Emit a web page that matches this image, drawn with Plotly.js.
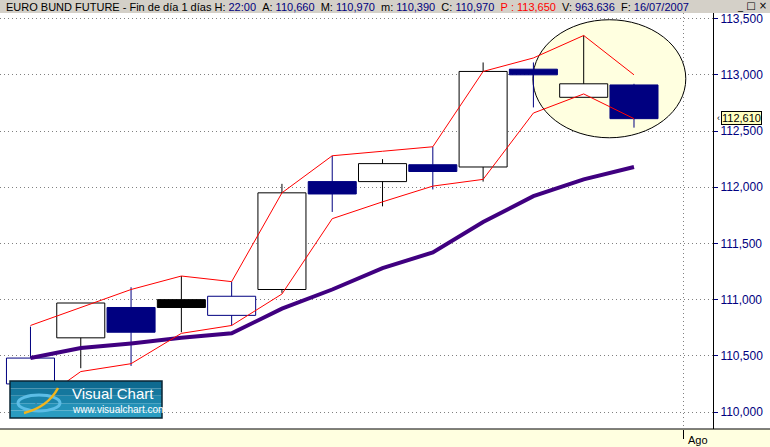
<!DOCTYPE html>
<html>
<head>
<meta charset="utf-8">
<script src="https://cdn.plot.ly/plotly-3.0.1.min.js"></script>
<style>html,body{margin:0;padding:0;background:#fff;}#chart{width:770px;height:447px;}</style>
</head>
<body>
<div id="chart"></div>
<script>
// ---- data ----
const sessions = [0, 1, 2, 3, 4, 5, 6, 7, 8, 9, 10, 11, 12];
const openP  = [110.25, 110.66, 110.93, 111.00, 110.86, 111.09, 112.05, 112.05, 112.20, 112.18, 113.05, 112.80, 112.91];
const highP  = [110.76, 110.97, 111.11, 111.21, 111.16, 112.03, 112.28, 112.25, 112.36, 113.11, 113.11, 113.35, 112.92];
const lowP   = [110.22, 110.39, 110.41, 110.71, 110.77, 111.06, 111.78, 111.83, 111.98, 112.05, 112.71, 112.80, 112.53];
const closeP = [110.48, 110.97, 110.71, 110.93, 111.03, 111.95, 111.94, 112.21, 112.14, 113.03, 113.00, 112.92, 112.61];
const upperBand = [110.77, 110.93, 111.09, 111.21, 111.16, 111.95, 112.28, 112.32, 112.36, 113.03, 113.15, 113.35, 113.00];
const lowerBand = [110.04, 110.36, 110.43, 110.70, 110.77, 111.05, 111.72, 111.87, 112.01, 112.07, 112.66, 112.83, 112.61];
const movingAvg = [110.48, 110.57, 110.61, 110.66, 110.70, 110.92, 111.09, 111.28, 111.42, 111.69, 111.92, 112.07, 112.18];
const yTickVals = [110.0, 110.5, 111.0, 111.5, 112.0, 112.5, 113.0, 113.5];
const yTickText = ['110,000', '110,500', '111,000', '111,500', '112,000', '112,500', '113,000', '113,500'];
const monthLabel = 'Ago';
const lastPriceText = '112,610';
const lastPrice = 112.61;

// ---- styles ----
const NAVY = '#000080', BLACK = '#000000';
const lineCol = sessions.map((s, i) => (i % 2 === 0 ? NAVY : BLACK));
const fillCol = sessions.map((s, i) => (closeP[i] >= openP[i] ? '#FFFFFF' : lineCol[i]));

// wick segments (outside the bodies)
function wicks(color) {
  const x = [], y = [];
  sessions.forEach((s, i) => {
    if (lineCol[i] !== color) return;
    const top = Math.max(openP[i], closeP[i]), bot = Math.min(openP[i], closeP[i]);
    if (highP[i] > top) { x.push(s, s, null); y.push(top, highP[i], null); }
    if (lowP[i] < bot) { x.push(s, s, null); y.push(lowP[i], bot, null); }
  });
  return {type: 'scatter', mode: 'lines', x: x, y: y, line: {color: color, width: 1}, hoverinfo: 'skip'};
}

const traces = [
  wicks(NAVY),
  wicks(BLACK),
  {
    type: 'bar', x: sessions,
    base: sessions.map((s, i) => Math.min(openP[i], closeP[i])),
    y: sessions.map((s, i) => Math.abs(closeP[i] - openP[i])),
    width: 0.955,
    marker: {color: fillCol, line: {color: lineCol, width: 1}},
    hoverinfo: 'skip'
  },
  {type: 'scatter', mode: 'lines', x: sessions, y: movingAvg, line: {color: '#400080', width: 4}},
  {type: 'scatter', mode: 'lines', x: sessions, y: upperBand, line: {color: '#FF0000', width: 1}},
  {type: 'scatter', mode: 'lines', x: sessions, y: lowerBand, line: {color: '#FF0000', width: 1}}
];

// pixel helpers for decorations (plot area: x 0..713, y 13..429)
const PW = 713, PT = 13, PB = 429, PH = PB - PT;
const px = v => v / PW;
const py = v => (PB - v) / PH;

const shapes = [
  // right axis panel
  {type: 'rect', xref: 'paper', yref: 'paper', x0: 1, x1: px(770), y0: 0, y1: 1, fillcolor: '#FFFFFF', line: {width: 0}, layer: 'below'},
  // header bar
  {type: 'rect', xref: 'paper', yref: 'paper', x0: 0, x1: px(770), y0: py(13), y1: py(0), fillcolor: '#D4D0C8', line: {width: 0}, layer: 'above'},
  // bottom separator
  {type: 'line', xref: 'paper', yref: 'paper', x0: 0, x1: px(770), y0: 0, y1: 0, line: {color: '#000', width: 1}},
  // highlight ellipse
  {type: 'circle', xref: 'x', yref: 'y', x0: 9.99, x1: 13.03, y0: 112.44, y1: 113.49,
   fillcolor: '#FFFFE0', line: {color: '#000', width: 1}, layer: 'between'}
];
// logo box with simple gradient
const logoTop = 381, logoBot = 418, logoL = 10, logoR = 162;
const grad = ['#0e6a90', '#15779d', '#1c84aa', '#2391b7', '#2a9cc1'];
grad.forEach((c, k) => {
  const h = (logoBot - logoTop) / grad.length;
  shapes.push({type: 'rect', xref: 'paper', yref: 'paper', x0: px(logoL), x1: px(logoR),
    y0: py(logoTop + h * (k + 1)), y1: py(logoTop + h * k), fillcolor: c, line: {width: 0}, layer: 'above'});
});
shapes.push({type: 'rect', xref: 'paper', yref: 'paper', x0: px(logoL), x1: px(logoR), y0: py(logoBot), y1: py(logoTop),
  fillcolor: 'rgba(0,0,0,0)', line: {color: '#0a2533', width: 1.5}, layer: 'above'});
shapes.push({type: 'circle', xref: 'paper', yref: 'paper', x0: px(18), x1: px(60), y0: py(411), y1: py(395),
  fillcolor: 'rgba(0,0,0,0)', line: {color: '#5cbde6', width: 3}, layer: 'above'});
shapes.push({type: 'path', xref: 'paper', yref: 'paper',
  path: 'M ' + px(24) + ',' + py(413) + ' Q ' + px(48) + ',' + py(407) + ' ' + px(58) + ',' + py(388),
  line: {color: '#f2b51c', width: 2.5}, layer: 'above'});

const sp = '\u00A0';
const nv = t => '<span style="color:#000080">' + t + '</span>';
const header = 'EURO BUND FUTURE - Fin de día 1 días' + sp + 'H:' + sp + nv('22:00') + sp + sp +
  'A:' + sp + nv('110,660') + sp + sp + 'M:' + sp + nv('110,970') + sp + sp + 'm:' + sp + nv('110,390') + sp + sp +
  'C:' + sp + nv('110,970') + sp + sp + '<span style="color:#FF0000">P' + sp + ':' + sp + '113,650</span>' + sp + sp +
  'V:' + sp + nv('963.636') + sp + sp + 'F:' + sp + nv('16/07/2007');

const annotations = [
  {xref: 'paper', yref: 'paper', x: px(4), y: py(7), xanchor: 'left', yanchor: 'middle', showarrow: false,
   text: header, font: {family: 'Liberation Sans, Arial', size: 11, color: '#000'}},
  {xref: 'paper', yref: 'paper', x: px(735), y: py(6), xanchor: 'left', yanchor: 'middle', showarrow: false,
   text: '_' + sp + '□' + sp + '×', font: {family: 'DejaVu Sans', size: 10, color: '#000'}},
  {xref: 'paper', yref: 'y', x: px(721), y: lastPrice, yshift: 1, xanchor: 'left', yanchor: 'middle', showarrow: false,
   text: lastPriceText, font: {family: 'Liberation Sans, Arial', size: 11, color: '#000'},
   bgcolor: '#FFFFC0', bordercolor: '#000', borderwidth: 1, borderpad: 0},
  {xref: 'paper', yref: 'y', x: px(715), y: lastPrice, yshift: 1, xanchor: 'left', yanchor: 'middle', showarrow: false,
   text: '‹', font: {family: 'Liberation Sans, Arial', size: 9, color: '#000'}},
  {xref: 'paper', yref: 'paper', x: px(686), y: py(440), xanchor: 'left', yanchor: 'middle', showarrow: false,
   text: monthLabel, font: {family: 'Liberation Sans, Arial', size: 11, color: '#000'}},
  {xref: 'paper', yref: 'paper', x: px(70), y: py(393), xanchor: 'left', yanchor: 'middle', showarrow: false,
   text: 'Visual Chart', font: {family: 'Liberation Sans, Arial', size: 15, color: '#FFFFFF'}},
  {xref: 'paper', yref: 'paper', x: px(70), y: py(409), xanchor: 'left', yanchor: 'middle', showarrow: false,
   text: 'www.visualchart.com', font: {family: 'Liberation Sans, Arial', size: 10, color: '#FFFFFF'}}
];

const layout = {
  width: 770, height: 447,
  margin: {l: 0, r: 770 - PW, t: PT, b: 447 - PB, pad: 0},
  paper_bgcolor: '#FFFFE0', plot_bgcolor: '#FFFFFF',
  showlegend: false, barmode: 'overlay',
  font: {family: 'Liberation Sans, Arial'},
  xaxis: {
    range: [-0.606, 13.571], tickvals: [12.975], ticks: 'outside', ticklen: 9, tickcolor: '#000', tickwidth: 1,
    showticklabels: false, showgrid: true, gridcolor: '#808080', griddash: '1px,3px', gridwidth: 1,
    zeroline: false, showline: false, fixedrange: true
  },
  yaxis: {
    side: 'right', range: [109.849, 113.55], tickvals: yTickVals, ticktext: yTickText,
    ticks: 'outside', ticklen: 4, tickcolor: NAVY, tickwidth: 1,
    tickfont: {family: 'Liberation Sans, Arial', size: 12, color: NAVY},
    showgrid: true, gridcolor: '#808080', griddash: '1px,3px', gridwidth: 1,
    showline: true, linecolor: '#000', linewidth: 1, zeroline: false, fixedrange: true
  },
  shapes: shapes,
  annotations: annotations
};

Plotly.newPlot('chart', traces, layout, {staticPlot: true, displayModeBar: false});
</script>
</body>
</html>
